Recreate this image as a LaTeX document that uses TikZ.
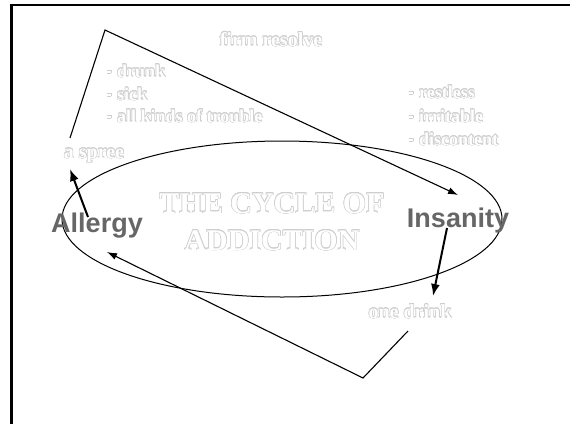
\documentclass[tikz,border=0pt]{standalone}
\usepackage{fontspec}
\setmainfont{Liberation Serif}
\newfontfamily\stagefont{Liberation Sans}
\usepackage{contour}
\contourlength{0.55pt}
\usetikzlibrary{arrows.meta}
\definecolor{stagegray}{HTML}{666666}
\definecolor{rimgray}{HTML}{CFCFCF}
\newcommand{\ghosttext}[1]{\contour{rimgray}{\textcolor{white}{#1}}}
\newcommand{\itemmark}{\ghosttext{\rule[4pt]{4pt}{2.5pt}}\hspace{6pt}}
\tikzset{
  label/.style={font=\bfseries\fontsize{20}{22}\selectfont,inner sep=0pt,anchor=base},
  item/.style={font=\bfseries\fontsize{18}{20}\selectfont,inner sep=0pt,anchor=base west},
  title/.style={font=\bfseries\fontsize{30}{32}\selectfont,inner sep=0pt,anchor=base},
  stage/.style={font=\stagefont\bfseries\fontsize{27}{30}\selectfont,text=stagegray,inner sep=0pt,anchor=base},
  loop/.style={line width=1pt},
  line/.style={-{Latex[length=10pt,width=7pt]},line width=1.1pt},
  push/.style={-{Latex[length=12pt,width=9pt]},line width=2pt}
}

\begin{document}
\begin{tikzpicture}[x=1pt,y=-1pt]
\useasboundingbox (0,0) rectangle (570,424);
\draw[line width=2.5pt] (11.5,424) -- (11.5,5) -- (570,5);

% the cycle
\draw[loop] (282,219) ellipse [x radius=220, y radius=78];
\node[title] (t1) at (272,213) {\ghosttext{THE CYCLE OF}};
\node[title] (t2) at (272,250) {\ghosttext{ADDICTION}};

\node[stage] (allergy) at (97,232) {Allergy};
\node[stage] (insanity) at (458,227) {Insanity};

\node[label] (resolve) at (271,46) {\ghosttext{firm resolve}};
\node[label] (spree) at (94,158) {\ghosttext{a spree}};
\node[label] (drink) at (410,318) {\ghosttext{one drink}};

\node[item] (drunk) at (107,77) {\itemmark\ghosttext{drunk}};
\node[item] (sick) at (107,100) {\itemmark\ghosttext{sick}};
\node[item] (trouble) at (107,122) {\itemmark\ghosttext{all kinds of trouble}};
\node[item] (restless) at (409,98) {\itemmark\ghosttext{restless}};
\node[item] (irritable) at (409,122) {\itemmark\ghosttext{irritable}};
\node[item] (discontent) at (409,145) {\itemmark\ghosttext{discontent}};

\coordinate (spree top) at (70,138);
\coordinate (top turn) at (105,30);
\coordinate (insanity in) at (458,195);
\coordinate (insanity out) at (447,228);
\coordinate (drink in) at (433,296);
\coordinate (drink out) at (408,331);
\coordinate (low turn) at (363,378);
\coordinate (allergy in) at (107,252);
\coordinate (allergy out) at (88,217);
\coordinate (spree in) at (70,169);

\draw[line] (spree top) -- (top turn) -- (insanity in);
\draw[push] (insanity out) -- (drink in);
\draw[line] (drink out) -- (low turn) -- (allergy in);
\draw[push] (allergy out) -- (spree in);
\end{tikzpicture}
\end{document}
